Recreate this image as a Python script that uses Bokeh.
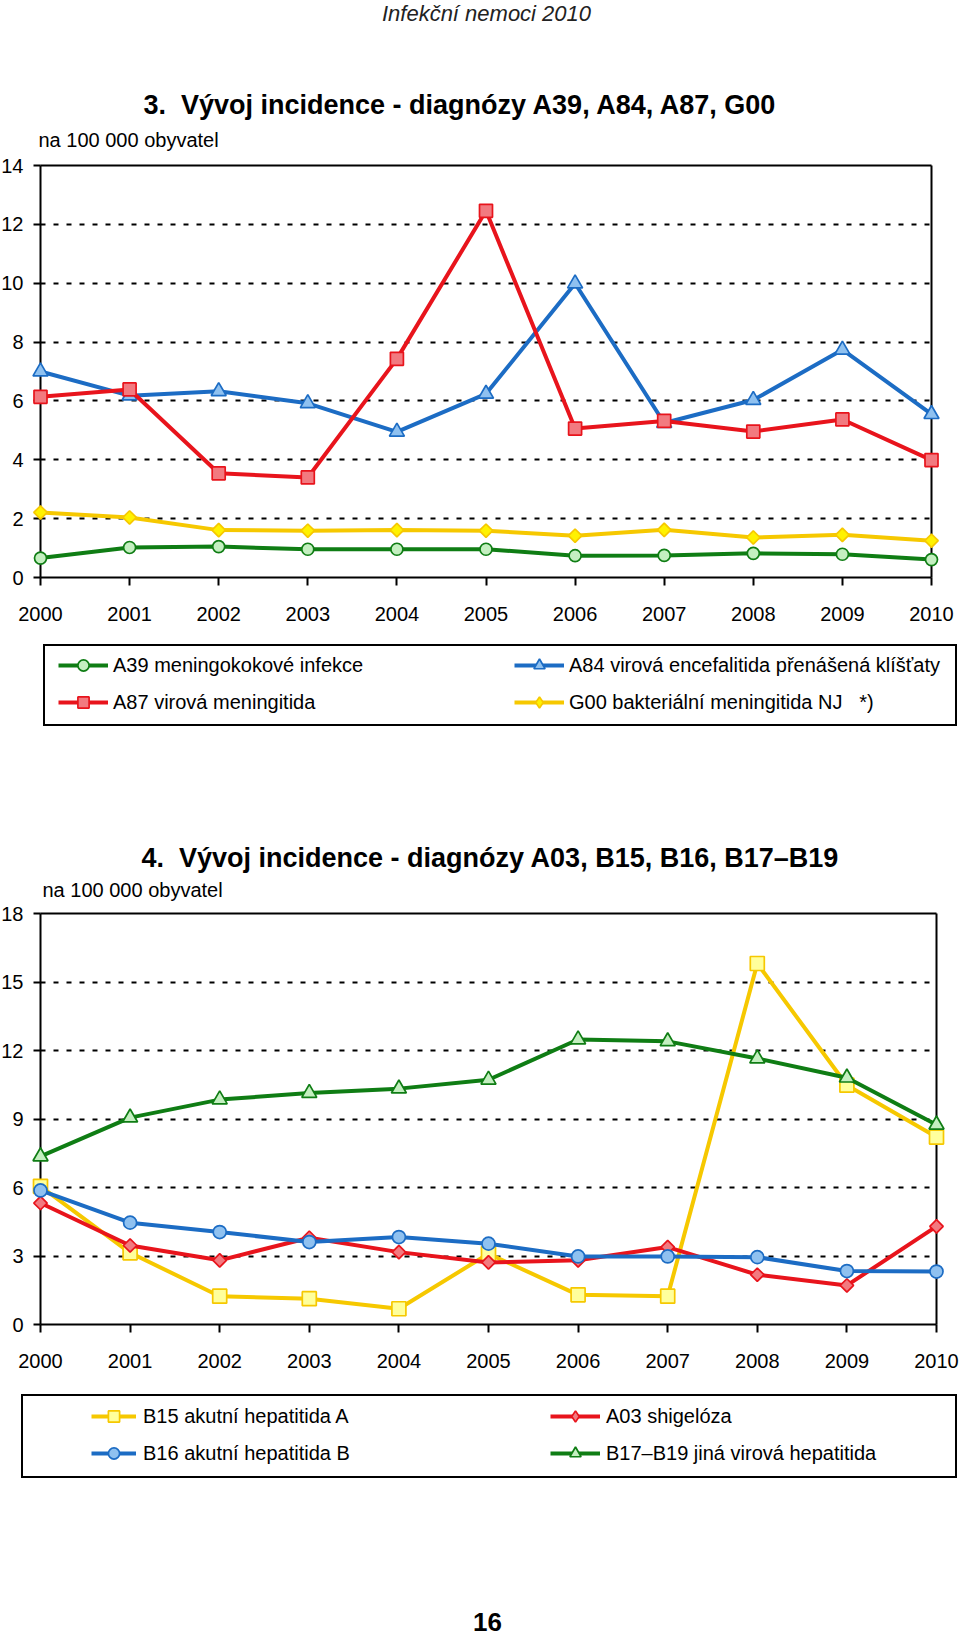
from bokeh.plotting import figure
from bokeh.models import (Range1d, FixedTicker, Legend, LegendItem, Label, LinearAxis, Grid)
from bokeh.layouts import column
from bokeh.embed import file_html
from bokeh.resources import INLINE

# ---------------- data ----------------
years = [2000, 2001, 2002, 2003, 2004, 2005, 2006, 2007, 2008, 2009, 2010]
year_labels = ["2000", "2001", "2002", "2003", "2004", "2005", "2006", "2007", "2008", "2009", "2010"]

# chart 3
a39 = [0.66, 1.02, 1.05, 0.96, 0.96, 0.96, 0.74, 0.75, 0.82, 0.79, 0.61]
a84 = [7.00, 6.18, 6.33, 5.92, 4.95, 6.24, 9.99, 5.25, 6.03, 7.74, 5.55]
a87 = [6.14, 6.39, 3.54, 3.40, 7.43, 12.46, 5.06, 5.32, 4.96, 5.37, 3.99]
g00 = [2.21, 2.04, 1.61, 1.59, 1.61, 1.59, 1.42, 1.62, 1.36, 1.45, 1.25]
y1_ticks = [0, 2, 4, 6, 8, 10, 12, 14]

# chart 4
b15 = [6.05, 3.14, 1.24, 1.13, 0.69, 3.10, 1.30, 1.24, 15.81, 10.48, 8.21]
b16 = [5.87, 4.46, 4.05, 3.61, 3.83, 3.54, 2.98, 2.98, 2.95, 2.34, 2.32]
a03 = [5.32, 3.46, 2.81, 3.80, 3.17, 2.72, 2.81, 3.39, 2.18, 1.71, 4.30]
b17 = [7.36, 9.06, 9.85, 10.14, 10.33, 10.72, 12.48, 12.40, 11.65, 10.81, 8.75]
y2_ticks = [0, 3, 6, 9, 12, 15, 18]

header_text = "Infekční nemoci 2010"
title1_text = "3.\u00a0 Vývoj incidence - diagnózy A39, A84, A87, G00"
title2_text = "4.\u00a0 Vývoj incidence - diagnózy A03, B15, B16, B17–B19"
unit_text = "na 100 000 obyvatel"
page_text = "16"

# ---------------- layout (pixels) ----------------
W = 960
H1, H2 = 800, 837
# plot area of each chart: left, right, top, bottom (pixels inside its canvas)
AREA1 = (40, 931, 165, 577)
AREA2 = (40, 936, 113, 524)

FONT = "Liberation Sans"
GREEN, GREEN_F = "#0f7d14", "#c4efc0"
RED, RED_F = "#e8141c", "#f27a80"
BLUE, BLUE_F = "#1c6cc4", "#8fc1f0"
YEL = "#f6c800"
YEL_F1 = "#fff200"
YEL_F2 = "#ffff9c"

HAS_CROSS = "cross_bounds" in Grid.properties()


def make_fig(H, area, yticks):
    left, right, top, bottom = area
    kx = (right - left) / (years[-1] - years[0])
    ky = (bottom - top) / (yticks[-1] - yticks[0])
    xr = Range1d(years[0] - left / kx, years[-1] + (W - right) / kx)
    yr = Range1d(yticks[0] - (H - bottom) / ky, yticks[-1] + top / ky)
    p = figure(width=W, height=H, x_range=xr, y_range=yr, output_backend="svg",
               toolbar_location=None, min_border=0)
    p.background_fill_color = "white"
    p.border_fill_color = "white"
    p.outline_line_color = None

    xa, ya = p.xaxis[0], p.yaxis[0]
    xa.fixed_location = yticks[0]
    xa.bounds = (years[0], years[-1])
    xa.ticker = FixedTicker(ticks=years)
    xa.major_label_overrides = {y: s for y, s in zip(years, year_labels)}
    xa.major_tick_out = 8
    xa.major_label_standoff = 21
    ya.fixed_location = years[0]
    ya.bounds = (yticks[0], yticks[-1])
    ya.ticker = FixedTicker(ticks=yticks)
    ya.major_tick_out = 7
    ya.major_label_standoff = 10
    for ax in (xa, ya):
        ax.axis_line_color = "black"
        ax.axis_line_width = 2
        ax.major_tick_line_color = "black"
        ax.major_tick_line_width = 2
        ax.major_tick_in = 0
        ax.minor_tick_line_color = None
        ax.major_label_text_font = FONT
        ax.major_label_text_font_size = "20px"
        ax.major_label_text_color = "black"

    # frame lines on the right and on top
    p.add_layout(LinearAxis(fixed_location=years[-1], bounds=(yticks[0], yticks[-1]),
                            ticker=FixedTicker(ticks=[]), axis_line_width=2, axis_line_color="black",
                            major_tick_line_color=None, minor_tick_line_color=None), "right")
    p.add_layout(LinearAxis(fixed_location=yticks[-1], bounds=(years[0], years[-1]),
                            ticker=FixedTicker(ticks=[]), axis_line_width=2, axis_line_color="black",
                            major_tick_line_color=None, minor_tick_line_color=None), "above")

    p.xgrid.visible = False
    inner = yticks[1:-1]
    if HAS_CROSS:
        g = p.ygrid[0]
        g.ticker = FixedTicker(ticks=inner)
        g.cross_bounds = (years[0], years[-1])
        g.grid_line_color = "black"
        g.grid_line_width = 2
        g.grid_line_dash = "5 8"
    else:
        p.ygrid.visible = False
        p.segment(x0=[years[0]] * len(inner), x1=[years[-1]] * len(inner), y0=inner, y1=inner,
                  line_color="black", line_width=2, line_dash="5 8")
    return p


def series(p, y, color, marker, fill, size, diamond=False):
    lr = p.line(years, y, line_color=color, line_width=4)
    if diamond:
        # diamonds drawn as rotated squares; a hidden diamond marker stands in for the legend
        sr = p.scatter(years, y, marker="square", size=size, angle=0.785398,
                       fill_color=fill, line_color=color, line_width=1.7)
        proxy = p.scatter(years, y, marker="diamond", size=size * 1.4,
                          fill_color=fill, line_color=color, line_width=1.7, visible=False)
        leg = [lr, proxy]
    else:
        sr = p.scatter(years, y, marker=marker, size=size,
                       fill_color=fill, line_color=color, line_width=1.7)
        leg = [lr, sr]
    lr.level = "overlay"
    sr.level = "overlay"
    return leg


def col_legend(items, x, y, gw, standoff):
    return Legend(items=items, location=(x, y), orientation="vertical",
                  spacing=9, padding=0, margin=0,
                  glyph_width=gw, glyph_height=28, label_height=28, label_standoff=standoff,
                  label_text_font=FONT, label_text_font_size="20px", label_text_color="black",
                  border_line_alpha=0, background_fill_alpha=0)


def box_legend(renderer, x, y, w, h):
    # framed box around the two legend columns
    return Legend(items=[LegendItem(label=" ", renderers=[renderer])], location=(x, y),
                  padding=0, margin=0, spacing=0,
                  glyph_width=0, glyph_height=h, label_height=h, label_width=w, label_standoff=0,
                  label_text_alpha=0, label_text_font_size="20px",
                  border_line_color="black", border_line_width=2, border_line_alpha=1,
                  background_fill_alpha=0)


def label(p, H, text, x, y_mid, size, style="normal", align="left", color="black"):
    p.add_layout(Label(x=x, y=H - y_mid, x_units="screen", y_units="screen", text=text,
                       text_font=FONT, text_font_size=size, text_font_style=style,
                       text_align=align, text_baseline="middle", text_color=color))


# ---------------- chart 3 ----------------
p1 = make_fig(H1, AREA1, y1_ticks)
r_a39 = series(p1, a39, GREEN, "circle", GREEN_F, 12)
r_g00 = series(p1, g00, YEL, None, YEL_F1, 9.5, diamond=True)
r_a84 = series(p1, a84, BLUE, "triangle", BLUE_F, 15)
r_a87 = series(p1, a87, RED, "square", RED_F, 13)

p1.add_layout(box_legend(r_a39[0], 43, H1 - 726, 910, 78))
p1.add_layout(col_legend([LegendItem(label="A39 meningokokové infekce", renderers=r_a39),
                          LegendItem(label="A87 virová meningitida", renderers=r_a87)],
                         58, H1 - 716, 50, 5))
p1.add_layout(col_legend([LegendItem(label="A84 virová encefalitida přenášená klíšťaty", renderers=r_a84),
                          LegendItem(label="G00 bakteriální meningitida NJ   *)", renderers=r_g00)],
                         514, H1 - 716, 50, 5))

label(p1, H1, header_text, 486, 13, "22px", style="italic", align="center", color="#222222")
label(p1, H1, title1_text, 143, 104, "27px", style="bold")
label(p1, H1, unit_text, 38, 139.5, "20px")

# ---------------- chart 4 ----------------
p2 = make_fig(H2, AREA2, y2_ticks)
r_b15 = series(p2, b15, YEL, "square", YEL_F2, 14)
r_a03 = series(p2, a03, RED, None, RED_F, 9.5, diamond=True)
r_b16 = series(p2, b16, BLUE, "circle", BLUE_F, 13)
r_b17 = series(p2, b17, GREEN, "triangle", GREEN_F, 15)

p2.add_layout(box_legend(r_b15[0], 21, H2 - 678, 932, 80))
p2.add_layout(col_legend([LegendItem(label="B15 akutní hepatitida A", renderers=r_b15),
                          LegendItem(label="B16 akutní hepatitida B", renderers=r_b16)],
                         91, H2 - 667, 45, 7))
p2.add_layout(col_legend([LegendItem(label="A03 shigelóza", renderers=r_a03),
                          LegendItem(label="B17–B19 jiná virová hepatitida", renderers=r_b17)],
                         550, H2 - 667, 50, 6))

label(p2, H2, title2_text, 141, 857 - H1, "27px", style="bold")
label(p2, H2, unit_text, 42, 889.5 - H1, "20px")
label(p2, H2, page_text, 487, 1621 - H1, "26px", style="bold", align="center")

layout = column(p1, p2, spacing=0)
open("out.html", "w").write(file_html(layout, INLINE))
